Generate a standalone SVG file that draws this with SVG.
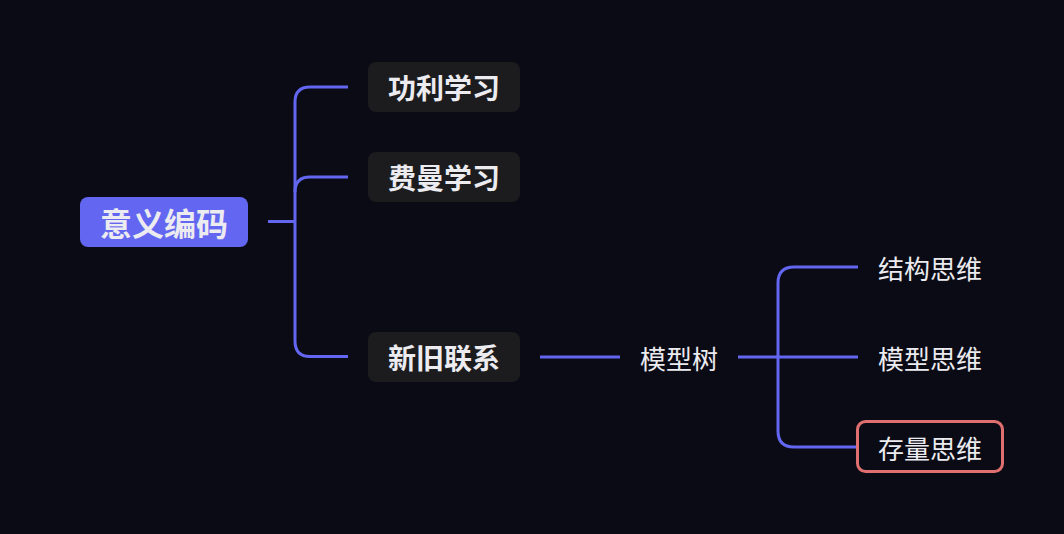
<svg xmlns="http://www.w3.org/2000/svg" width="1064" height="534" viewBox="0 0 1064 534">
<style>
.bg{fill:#0b0b16}
.conn{fill:none;stroke:#6366f1;stroke-width:3;stroke-linecap:butt}
.t{font-family:"Noto Sans CJK SC","Noto Sans",sans-serif;fill:#ebebf0;text-anchor:middle;dominant-baseline:central}
.b{font-weight:bold}
.l1{fill:#1c1c1e}
</style>
<rect class="bg" x="0" y="0" width="1064" height="534"/>
<g id="connectors">
<path class="conn" d="M268 221.5H295"/>
<path class="conn" d="M348 87H310Q295 87 295 102V341Q295 356.5 310 356.5H348"/>
<path class="conn" d="M348 177H310Q295 177 295 192"/>
<path class="conn" d="M540 357H620"/>
<path class="conn" d="M738 357H858"/>
<path class="conn" d="M858 267H794Q778 267 778 283V431Q778 447 794 447H858"/>
</g>
<g id="root">
<rect x="80" y="197" width="168" height="50" rx="8" fill="#6366f1"/>
<text class="t b" x="164" y="222" font-size="32">意义编码</text>
</g>
<g id="n-gongli">
<rect class="l1" x="368" y="62" width="152" height="50" rx="8"/>
<text class="t b" x="444" y="87" font-size="28">功利学习</text>
</g>
<g id="n-feiman">
<rect class="l1" x="368" y="152" width="152" height="50" rx="8"/>
<text class="t b" x="444" y="177" font-size="28">费曼学习</text>
</g>
<g id="n-xinjiu">
<rect class="l1" x="368" y="332" width="152" height="50" rx="8"/>
<text class="t b" x="444" y="357" font-size="28">新旧联系</text>
</g>
<g id="n-moxingshu">
<text class="t" x="679" y="357" font-size="26">模型树</text>
</g>
<g id="n-jiegou">
<text class="t" x="930" y="267" font-size="26">结构思维</text>
</g>
<g id="n-moxing">
<text class="t" x="930" y="357" font-size="26">模型思维</text>
</g>
<g id="n-cunliang">
<rect x="857.5" y="421.5" width="145" height="50" rx="8" fill="none" stroke="#e07070" stroke-width="3"/>
<text class="t" x="930" y="447" font-size="26">存量思维</text>
</g>
</svg>
